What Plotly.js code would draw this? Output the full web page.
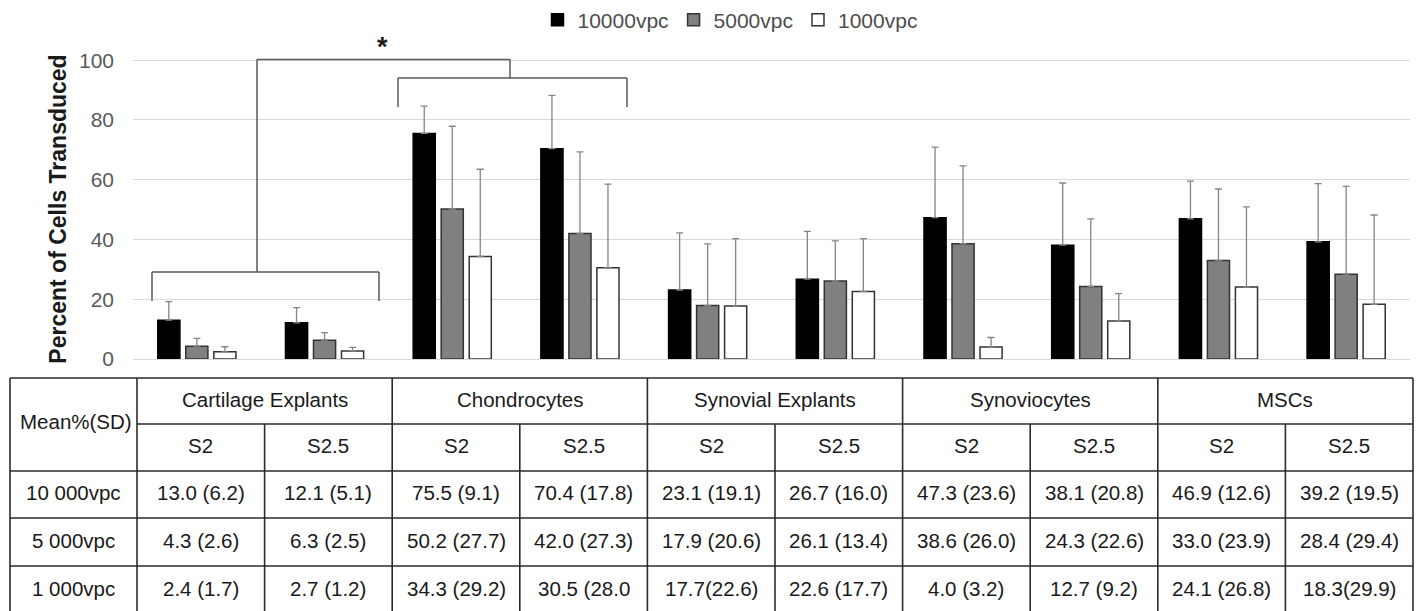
<!DOCTYPE html>
<html>
<head>
<meta charset="utf-8">
<script src="https://cdn.plot.ly/plotly-3.0.1.min.js"></script>
<style>
  html, body { margin: 0; padding: 0; background: #fff; }
  #chart { width: 1419px; height: 611px; }
</style>
</head>
<body>
<div id="chart"></div>
<script>
// ---------- data ----------
const cellTypes = ['Cartilage Explants', 'Chondrocytes', 'Synovial Explants', 'Synoviocytes', 'MSCs'];
const serotypes = ['S2', 'S2.5'];
const seriesNames = ['10000vpc', '5000vpc', '1000vpc'];
const rowLabels = ['10 000vpc', '5 000vpc', '1 000vpc'];
const cornerLabel = 'Mean%(SD)';

const mean10000 = [13.0, 12.1, 75.5, 70.4, 23.1, 26.7, 47.3, 38.1, 46.9, 39.2];
const sd10000   = [6.2, 5.1, 9.1, 17.8, 19.1, 16.0, 23.6, 20.8, 12.6, 19.5];
const mean5000  = [4.3, 6.3, 50.2, 42.0, 17.9, 26.1, 38.6, 24.3, 33.0, 28.4];
const sd5000    = [2.6, 2.5, 27.7, 27.3, 20.6, 13.4, 26.0, 22.6, 23.9, 29.4];
const mean1000  = [2.4, 2.7, 34.3, 30.5, 17.7, 22.6, 4.0, 12.7, 24.1, 18.3];
const sd1000    = [1.7, 1.2, 29.2, 28.0, 22.6, 17.7, 3.2, 9.2, 26.8, 29.9];

// table cell texts as printed in the figure
const cells10000 = ['13.0 (6.2)', '12.1 (5.1)', '75.5 (9.1)', '70.4 (17.8)', '23.1 (19.1)', '26.7 (16.0)', '47.3 (23.6)', '38.1 (20.8)', '46.9 (12.6)', '39.2 (19.5)'];
const cells5000  = ['4.3 (2.6)', '6.3 (2.5)', '50.2 (27.7)', '42.0 (27.3)', '17.9 (20.6)', '26.1 (13.4)', '38.6 (26.0)', '24.3 (22.6)', '33.0 (23.9)', '28.4 (29.4)'];
const cells1000  = ['2.4 (1.7)', '2.7 (1.2)', '34.3 (29.2)', '30.5 (28.0', '17.7(22.6)', '22.6 (17.7)', '4.0 (3.2)', '12.7 (9.2)', '24.1 (26.8)', '18.3(29.9)'];

const yTicks = [0, 20, 40, 60, 80, 100];

// ---------- build ----------
const xCats = [];
cellTypes.forEach(c => serotypes.forEach(s => xCats.push(c + ' ' + s)));

const means = [mean10000, mean5000, mean1000];
const sds = [sd10000, sd5000, sd1000];
const fills = ['#000000', '#808080', '#ffffff'];
const lines = ['#000000', '#333333', '#333333'];

const traces = seriesNames.map((name, i) => ({
  type: 'bar',
  name: name,
  x: xCats,
  y: means[i],
  marker: { color: fills[i], line: { color: lines[i], width: 1.5 } },
  error_y: {
    type: 'data', symmetric: false,
    array: sds[i], arrayminus: sds[i].map(() => 0),
    color: '#858585', thickness: 1.3, width: 3.5
  },
  hoverinfo: 'x+y+name'
}));

// geometry helpers (pixel -> paper)
const FIG_W = 1419, FIG_H = 611;
const PL = 133, PR = 1410, PT = 59, PB = 359;
const px = v => (v - PL) / (PR - PL);
const py = v => (PB - v) / (PB - PT);

const shapes = [];
const annotations = [];
const seg = (x0, y0, x1, y1, color, width) => shapes.push({
  type: 'line', xref: 'paper', yref: 'paper',
  x0: px(x0), y0: py(y0), x1: px(x1), y1: py(y1),
  line: { color: color, width: width }, layer: 'above'
});
const txt = (x, y, text, size, color, extra) => annotations.push(Object.assign({
  xref: 'paper', yref: 'paper', x: px(x), y: py(y), text: text,
  showarrow: false, xanchor: 'center', yanchor: 'middle',
  font: { family: 'Liberation Sans, Arial, sans-serif', size: size, color: color }
}, extra || {}));

// significance brackets
const BC = '#595959', BW = 1.5;
seg(152, 301, 152, 272, BC, BW);
seg(152, 272, 379, 272, BC, BW);
seg(379, 272, 379, 301, BC, BW);
seg(257, 272, 257, 59.5, BC, BW);
seg(257, 59.5, 510, 59.5, BC, BW);
seg(510, 59.5, 510, 78, BC, BW);
seg(398, 107, 398, 78, BC, BW);
seg(398, 78, 627, 78, BC, BW);
seg(627, 78, 627, 107, BC, BW);
txt(382, 47, '<b>*</b>', 27, '#1a1a1a');

// table
const TL = 10, C1 = 137, TR = 1413, colW = (TR - C1) / 10;
const rowsY = [378, 424, 471, 518, 566, 614];
const TC = '#2b2b2b', TW = 1.6, TF = 20.5, TXT = '#1a1a1a';
seg(TL, rowsY[0], TR, rowsY[0], TC, TW);
seg(C1, rowsY[1], TR, rowsY[1], TC, TW);
for (let r = 2; r < rowsY.length - 1; r++) seg(TL, rowsY[r], TR, rowsY[r], TC, TW);
seg(TL, rowsY[0], TL, rowsY[5], TC, TW);
for (let g = 0; g <= 5; g++) seg(C1 + g * 2 * colW, rowsY[0], C1 + g * 2 * colW, rowsY[5], TC, TW);
for (let g = 0; g < 5; g++) seg(C1 + (2 * g + 1) * colW, rowsY[1], C1 + (2 * g + 1) * colW, rowsY[5], TC, TW);

txt((TL + C1) / 2 + 2, (rowsY[0] + rowsY[2]) / 2 - 3, cornerLabel, TF, TXT);
cellTypes.forEach((c, g) => txt(C1 + (2 * g + 1) * colW, (rowsY[0] + rowsY[1]) / 2 - 2, c, TF, TXT));
xCats.forEach((_, k) => txt(C1 + (k + 0.5) * colW, (rowsY[1] + rowsY[2]) / 2 - 2, serotypes[k % 2], TF, TXT));
const cellRows = [cells10000, cells5000, cells1000];
rowLabels.forEach((lab, r) => {
  const yc = (rowsY[r + 2] + rowsY[r + 3]) / 2 - 2;
  txt((TL + C1) / 2, yc, lab, TF, TXT);
  cellRows[r].forEach((t, k) => txt(C1 + (k + 0.5) * colW, yc, t, TF, TXT));
});

const layout = {
  width: FIG_W, height: FIG_H,
  margin: { l: PL, r: FIG_W - PR, t: PT, b: FIG_H - PB, pad: 0, autoexpand: false },
  paper_bgcolor: '#ffffff', plot_bgcolor: '#ffffff',
  font: { family: 'Liberation Sans, Arial, sans-serif', color: '#595959' },
  barmode: 'group', bargap: 0.342, bargroupgap: 0.21,
  showlegend: true,
  legend: {
    orientation: 'h', x: px(730), xanchor: 'center', y: py(20), yanchor: 'middle',
    font: { size: 21, color: '#4d4d4d' }, bgcolor: 'rgba(0,0,0,0)',
    itemclick: false, itemdoubleclick: false
  },
  xaxis: {
    type: 'category', showticklabels: false, ticks: '', showgrid: false,
    zeroline: false, showline: false, fixedrange: true, automargin: false
  },
  yaxis: {
    range: [0, 100.4], tickvals: yTicks, ticktext: yTicks.map(String),
    showgrid: true, gridcolor: '#d9d9d9', gridwidth: 1,
    zeroline: true, zerolinecolor: '#d9d9d9', zerolinewidth: 1,
    showline: false, ticks: '', ticklabelstandoff: 18,
    tickfont: { size: 21, color: '#595959' },
    title: { text: '<b>Percent of Cells Transduced</b>', standoff: 5,
             font: { size: 23, color: '#1a1a1a' } },
    fixedrange: true, automargin: false
  },
  shapes: shapes,
  annotations: annotations
};

Plotly.newPlot('chart', traces, layout, { displayModeBar: false });
</script>
</body>
</html>
